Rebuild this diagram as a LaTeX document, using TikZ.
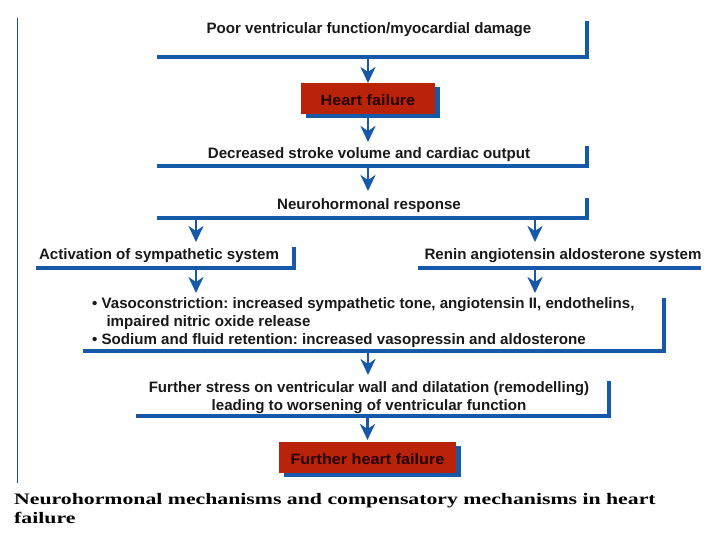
\documentclass[tikz,border=0pt]{standalone}
\usepackage{fontspec}
\setmainfont{Liberation Sans}
\newfontfamily\cond{Liberation Sans}
\newfontfamily\widefont[FakeStretch=1.08]{Liberation Sans}
\newfontfamily\capfont[FakeStretch=1.36]{Liberation Serif}
\usetikzlibrary{arrows.meta,shadows}
\definecolor{lineblue}{RGB}{22,88,170}
\definecolor{thinblue}{RGB}{40,80,150}
\definecolor{boxred}{RGB}{185,35,10}
\frenchspacing
\tikzset{
  frame/.style={rectangle, inner sep=0pt, outer sep=0pt, draw=none},
  brk/.style={draw=lineblue, line width=3.5pt, line join=miter},
  lbl/.style={inner sep=0pt, font=\cond\bfseries\fontsize{15.1}{17.8}\selectfont, text=black!90},
  redbox/.style={rectangle, fill=boxred, inner sep=0pt, outer sep=0pt, text height=14pt, text depth=0pt,
    font=\widefont\bfseries\fontsize{15}{16}\selectfont, text=black!85!red,
    drop shadow={shadow xshift=5pt, shadow yshift=-4pt, fill=lineblue, opacity=1}},
  arr/.style={draw=lineblue, line width=2.8pt, -{Stealth[length=16pt,width=15pt,inset=5pt]}},
  capt/.style={inner sep=0pt, anchor=west, font=\capfont\bfseries\fontsize{16}{17}\selectfont}
}
\begin{document}
\begin{tikzpicture}[x=1pt,y=-1pt]
\useasboundingbox (0,0) rectangle (720,540);
\fill[white] (0,0) rectangle (720,540);
% thin left line
\draw[thinblue, line width=1pt] (17,18) -- (17,483);

% box 1
\node[frame, minimum width=430pt, minimum height=36pt] (b1) at (372,39) {};
\node[lbl] (t1) at (369,30) {Poor ventricular function/myocardial damage};
\draw[brk] (b1.south west) -- (b1.south east) -- (b1.north east);

% heart failure
\node[redbox, minimum width=134pt, minimum height=31pt] (hf) at (368,98.5) {Heart failure};

% box 2
\node[frame, minimum width=430pt, minimum height=20pt] (b2) at (372,156) {};
\node[lbl] (t2) at (369,155) {Decreased stroke volume and cardiac output};
\draw[brk] (b2.south west) -- (b2.south east) -- (b2.north east);

% box 3
\node[frame, minimum width=430pt, minimum height=20pt] (b3) at (372,208) {};
\node[lbl] (t3) at (369,206) {Neurohormonal response};
\draw[brk] (b3.south west) -- (b3.south east) -- (b3.north east);

% box 4
\node[frame, minimum width=258pt, minimum height=21pt] (b4) at (165,257.5) {};
\node[lbl] (t4) at (159,256) {Activation of sympathetic system};
\draw[brk] (b4.south west) -- (b4.south east) -- (b4.north east);

% box 5
\node[frame, minimum width=283pt, minimum height=21pt] (b5) at (559.5,257.5) {};
\node[lbl] (t5) at (563,256) {Renin angiotensin aldosterone system};
\draw[brk] (b5.south west) -- (b5.south east);

% box 6
\node[frame, minimum width=581pt, minimum height=53pt] (b6) at (373.5,324.5) {};
\node[lbl, anchor=west, align=left] (t6) at (92,322.5) {\textbullet\ Vasoconstriction: increased sympathetic tone, angiotensin II, endothelins,\\
\hspace*{0.95em}impaired nitric oxide release\\
\textbullet\ Sodium and fluid retention: increased vasopressin and aldosterone};
\draw[brk] (b6.south west) -- (b6.south east) -- (b6.north east);

% box 7
\node[frame, minimum width=473pt, minimum height=35pt] (b7) at (372.5,398.5) {};
\node[lbl, align=center] (t7) at (369,398) {Further stress on ventricular wall and dilatation (remodelling)\\leading to worsening of ventricular function};
\draw[brk] (b7.south west) -- (b7.south east) -- (b7.north east);

% further heart failure
\node[redbox, minimum width=177pt, minimum height=31pt] (fhf) at (367.5,457.5) {Further heart failure};

% arrows
\draw[arr] (hf.north |- b1.south) -- (hf.north);
\draw[arr, shorten >=4pt] (hf.south) -- (hf.south |- b2.north);
\draw[arr, shorten >=7pt] (hf.south |- b2.south) -- (hf.south |- b3.north);
\coordinate (lx) at (196,0);
\coordinate (rx) at (535,0);
\draw[arr, shorten >=5pt] (lx |- b3.south) -- (lx |- b4.north);
\draw[arr, shorten >=5pt] (rx |- b3.south) -- (rx |- b5.north);
\draw[arr, shorten >=5pt] (lx |- b4.south) -- (lx |- b6.north);
\draw[arr, shorten >=5pt] (rx |- b5.south) -- (rx |- b6.north);
\draw[arr, shorten >=6pt] (hf.south |- b6.south) -- (hf.south |- b7.north);
\draw[arr, shorten >=2pt] (fhf.north |- b7.south) -- (fhf.north);

% caption
\node[capt] (c1) at (14,501) {Neurohormonal mechanisms and compensatory mechanisms in heart};
\node[capt] (c2) at (14,518) {failure};
\end{tikzpicture}
\end{document}
